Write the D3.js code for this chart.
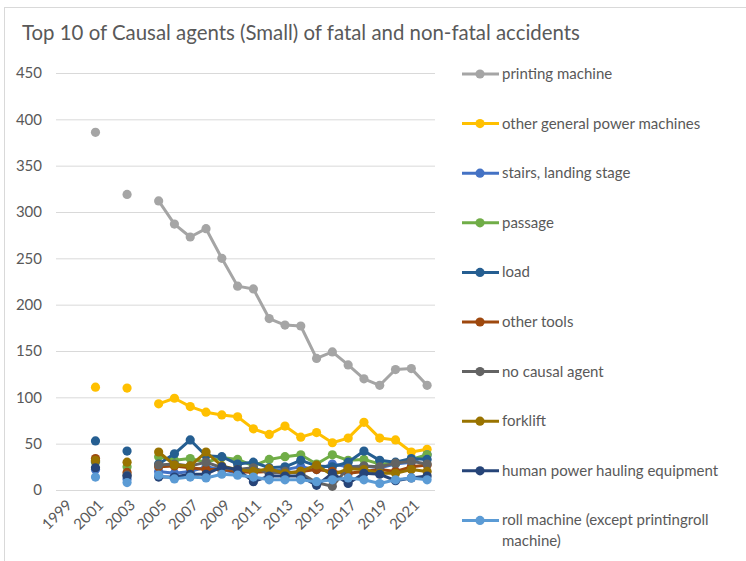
<!DOCTYPE html>
<html>
<head>
<meta charset="utf-8">
<script src="https://cdn.jsdelivr.net/npm/d3@7"></script>
<style>
  body { margin: 0; background: #fff; }
  text { font-family: Lato, "Open Sans", sans-serif; fill: #595959; }
</style>
</head>
<body>
<script>
  // categories 1999..2022 (no data for 1999, 2000, 2002, 2004)
  var years = d3.range(1999, 2023).map(String);
  var tickYears = ["1999","2001","2003","2005","2007","2009","2011","2013","2015","2017","2019","2021"];
  var yTicks = [0, 50, 100, 150, 200, 250, 300, 350, 400, 450];

  var names = ["printing machine", "other general power machines", "stairs, landing stage",
    "passage", "load", "other tools", "no causal agent", "forklift",
    "human power hauling equipment", "roll machine (except printingroll machine)"];
  var colors = ["#A5A5A5", "#FFC000", "#4472C4", "#70AD47", "#255E91",
    "#9E480E", "#636363", "#997300", "#264478", "#5B9BD5"];

  var printing   = [null,null,386,null,319,null,312,287,273,282,250,220,217,185,178,177,142,149,135,120,113,130,131,113];
  var otherPower = [null,null,111,null,110,null,93,99,90,84,81,79,66,60,69,57,62,51,56,73,56,54,41,44];
  var stairs     = [null,null,22,null,12,null,20,18,20,25,22,18,22,20,22,25,22,28,25,26,24,28,30,38];
  var passage    = [null,null,30,null,25,null,36,32,34,30,35,33,26,33,36,38,28,38,32,33,28,29,33,38];
  var load       = [null,null,53,null,42,null,28,39,54,37,36,28,30,24,25,32,26,25,30,42,32,30,34,33];
  var otherTools = [null,null,34,null,19,null,25,26,24,22,22,20,19,20,18,20,22,20,18,20,22,20,25,27];
  var noCausal   = [null,null,31,null,16,null,27,28,26,30,24,22,24,18,20,18,8,4,24,26,25,29,31,28];
  var forklift   = [null,null,32,null,30,null,41,27,26,41,26,22,20,23,18,20,27,16,23,22,18,18,22,20];
  var humanPower = [null,null,24,null,15,null,14,14,17,17,25,22,9,15,15,15,5,18,7,18,17,10,13,15];
  var roll       = [null,null,14,null,8,null,16,12,14,13,17,16,14,11,11,11,9,11,13,11,7,11,13,11];

  var seriesValues = [printing, otherPower, stairs, passage, load, otherTools, noCausal, forklift, humanPower, roll];

  var width = 746, height = 561;
  var plot = { left: 56, right: 435, top: 73, bottom: 490 };

  var svg = d3.select("body").append("svg")
      .attr("width", width)
      .attr("height", height);

  // chart border
  svg.append("rect")
    .attr("x", 4.5).attr("y", 7.5)
    .attr("width", width).attr("height", height)
    .attr("fill", "none")
    .attr("stroke", "#D9D9D9");

  svg.append("text")
    .attr("x", 22).attr("y", 40)
    .style("font-size", "20.4px")
    .text("Top 10 of Causal agents (Small) of fatal and non-fatal accidents");

  var x = d3.scaleBand().domain(years).range([plot.left, plot.right]);
  var y = d3.scaleLinear().domain([0, 450]).range([plot.bottom, plot.top]);

  // gridlines + y labels
  var yAxis = d3.axisLeft(y).tickValues(yTicks).tickSize(-(plot.right - plot.left)).tickPadding(14);
  var gy = svg.append("g")
    .attr("transform", "translate(" + plot.left + ",0)")
    .call(yAxis);
  gy.select(".domain").remove();
  gy.selectAll("line").attr("stroke", "#D9D9D9");
  gy.selectAll("text").style("font-size", "15px").attr("fill", "#595959");

  // x axis labels (odd years only)
  var xAxis = d3.axisBottom(x).tickValues(tickYears).tickSize(0);
  var gx = svg.append("g")
    .attr("transform", "translate(0," + plot.bottom + ")")
    .call(xAxis);
  gx.select(".domain").remove();
  gx.selectAll("text")
    .style("font-size", "15px")
    .attr("fill", "#595959")
    .attr("text-anchor", "end")
    .attr("dy", null)
    .attr("y", 0)
    .attr("transform", "translate(9,16) rotate(-45)");

  var line = d3.line()
    .defined(function(d) { return d != null; })
    .x(function(d, i) { return x(years[i]) + x.bandwidth() / 2; })
    .y(function(d) { return y(d); });

  seriesValues.forEach(function(vals, s) {
    var g = svg.append("g");
    g.append("path")
      .attr("d", line(vals))
      .attr("fill", "none")
      .attr("stroke", colors[s])
      .attr("stroke-width", 3)
      .attr("stroke-linejoin", "round");
    g.selectAll("circle")
      .data(vals.map(function(v, i) { return { v: v, yr: years[i] }; }).filter(function(d) { return d.v != null; }))
      .enter().append("circle")
      .attr("cx", function(d) { return x(d.yr) + x.bandwidth() / 2; })
      .attr("cy", function(d) { return y(d.v); })
      .attr("r", 4.6)
      .attr("fill", colors[s]);
  });

  // legend
  var legend = svg.append("g");
  names.forEach(function(name, s) {
    var ly = 74 + s * 49.6;
    legend.append("line")
      .attr("x1", 462).attr("x2", 499)
      .attr("y1", ly).attr("y2", ly)
      .attr("stroke", colors[s]).attr("stroke-width", 3);
    legend.append("circle")
      .attr("cx", 480).attr("cy", ly).attr("r", 4.6)
      .attr("fill", colors[s]);
    var t = legend.append("text")
      .attr("x", 502).attr("y", ly + 5)
      .style("font-size", "15px");
    if (s === 9) {
      t.append("tspan").attr("x", 502).text("roll machine (except printingroll");
      t.append("tspan").attr("x", 502).attr("dy", 21).text("machine)");
    } else {
      t.text(name);
    }
  });
</script>
</body>
</html>
